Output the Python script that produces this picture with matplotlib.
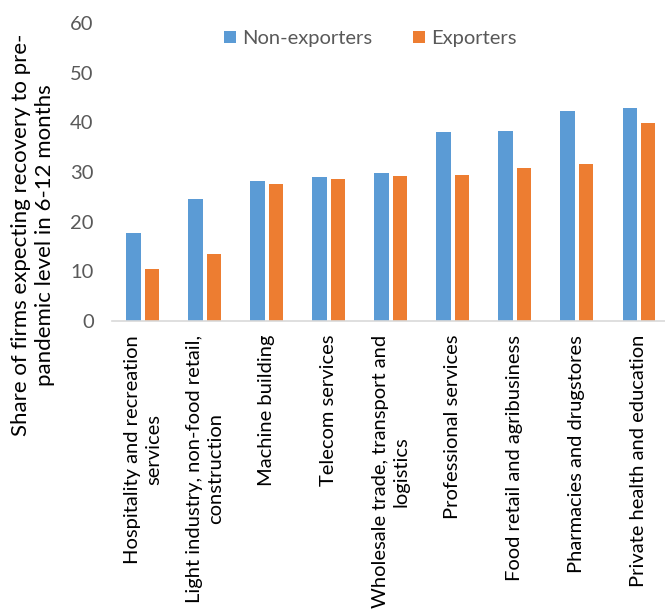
import numpy as np
import matplotlib
matplotlib.use("Agg")
import matplotlib.pyplot as plt

plt.rcParams['font.family'] = ['Lato', 'DejaVu Sans']

categories = ["Hospitality and recreation\nservices",
              "Light industry, non-food retail,\nconstruction",
              "Machine building",
              "Telecom services",
              "Wholesale trade, transport and\nlogistics",
              "Professional services",
              "Food retail and agribusiness",
              "Pharmacies and drugstores",
              "Private health and education"]
non_exporters = [17.7, 24.5, 28.1, 29.0, 29.8, 38.0, 38.3, 42.2, 42.9]
exporters = [10.4, 13.5, 27.6, 28.6, 29.3, 29.5, 30.9, 31.7, 39.9]

blue = '#5B9BD5'
orange = '#ED7D31'
grey = '#595959'

fig = plt.figure(figsize=(6.65, 6.09), dpi=100)
ax = fig.add_axes([0.168, 0.473, 0.832, 0.489])

x = np.arange(len(categories))
w = 0.23
ax.bar(x - 0.15, non_exporters, w, color=blue, label='Non-exporters')
ax.bar(x + 0.15, exporters, w, color=orange, label='Exporters')

ax.set_ylim(0, 60)
ax.set_yticks(range(0, 61, 10))
ax.set_xlim(-0.5, 8.42)
ax.set_xticks(x)
ax.set_xticklabels(categories, rotation=90, va='top', ha='center',
                   multialignment='center', linespacing=1.3, fontsize=14.5, color='black')
ax.tick_params(axis='y', length=0, labelsize=14.5, colors=grey, pad=13)
ax.tick_params(axis='x', length=0, pad=10)

for s in ['top', 'right', 'left']:
    ax.spines[s].set_visible(False)
ax.spines['bottom'].set_color('#D9D9D9')
ax.spines['bottom'].set_linewidth(1.2)

# y label sits a bit lower than the axes centre
fig.text(0.05, 0.614, "Share of firms expecting recovery to pre-\npandemic level in 6-12 months",
         rotation=90, ha='center', va='center', fontsize=16, linespacing=1.25)

ax.legend(loc='center', bbox_to_anchor=(0.467, 0.948), ncol=2, frameon=False,
          fontsize=14.5, handlelength=0.6, handleheight=0.6, handletextpad=0.3,
          columnspacing=2.0, labelcolor=grey)

fig.savefig('out.png', dpi=100)
